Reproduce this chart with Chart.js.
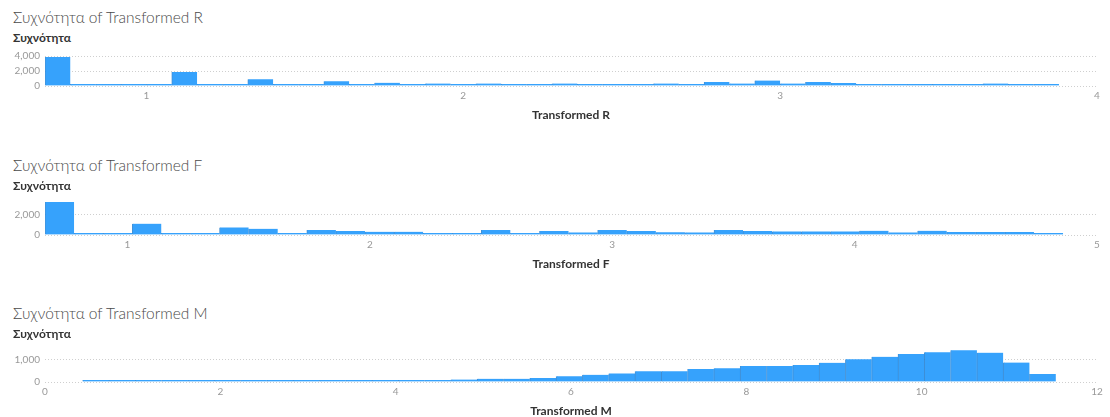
<!DOCTYPE html>
<html>
<head>
<meta charset="utf-8">
<script src="https://cdn.jsdelivr.net/npm/chart.js@4/dist/chart.umd.min.js"></script>
<style>
  html, body { margin: 0; padding: 0; background: #fff; width: 1110px; height: 417px; overflow: hidden; }
  body { position: relative; font-family: Lato, "Open Sans", sans-serif; }
  .title { position: absolute; left: 13px; font-size: 15.5px; line-height: 20px; color: #4a4a4a; font-weight: 300; white-space: nowrap; z-index: 2; }
  .ylab { position: absolute; left: 13px; font-size: 12px; line-height: 14px; font-weight: 700; color: #333; white-space: nowrap; z-index: 2; }
  canvas { position: absolute; left: 0; }
</style>
</head>
<body>
<div class="title" style="top:7px">Συχνότητα of Transformed R</div>
<div class="ylab" style="top:31px">Συχνότητα</div>
<canvas id="histR" width="1110" height="80" style="top:45px"></canvas>

<div class="title" style="top:155px">Συχνότητα of Transformed F</div>
<div class="ylab" style="top:179px">Συχνότητα</div>
<canvas id="histF" width="1110" height="86" style="top:188px"></canvas>

<div class="title" style="top:303px">Συχνότητα of Transformed M</div>
<div class="ylab" style="top:327px">Συχνότητα</div>
<canvas id="histM" width="1110" height="81" style="top:337px"></canvas>

<script>
// Transformed R: 40 bins of width 0.08 starting at 0.68
const rBinStart = 0.68;
const rBinWidth = 0.08;
const rCounts = [3880, 150, 140, 130, 140, 1860, 150, 140, 910, 150,
                 140, 630, 160, 420, 150, 320, 150, 320, 200, 150,
                 320, 200, 200, 200, 320, 280, 530, 320, 720, 320,
                 520, 400, 280, 280, 280, 280, 180, 320, 180, 180];
const rXTicks = [1, 2, 3, 4];
const rYTicks = [0, 2000, 4000];

// Transformed F: 35 bins of width 0.12 starting at 0.66
const fBinStart = 0.66;
const fBinWidth = 0.12;
const fCounts = [3200, 110, 110, 1100, 110, 110, 740, 600, 110, 480,
                 380, 320, 320, 190, 180, 480, 180, 380, 250, 480,
                 390, 260, 250, 480, 380, 350, 350, 350, 410, 250,
                 410, 290, 290, 290, 100];
const fXTicks = [1, 2, 3, 4, 5];
const fYTicks = [0, 2000];

// Transformed M: 37 bins of width 0.3 starting at 0.43
const mBinStart = 0.43;
const mBinWidth = 0.3;
const mCounts = [55, 55, 55, 55, 55, 55, 55, 55, 55, 55,
                 55, 55, 85, 80, 110, 140, 140, 180, 250, 315,
                 380, 475, 475, 575, 610, 705, 705, 750, 845, 1000,
                 1110, 1235, 1315, 1400, 1295, 860, 350];
const mXTicks = [0, 2, 4, 6, 8, 10, 12];
const mYTicks = [0, 1000];

const BAR_FILL = '#36a2fc';
const BAR_EDGE = 'rgba(34,124,206,0.85)';

function histogram(id, cfg) {
  const points = cfg.counts.map((c, i) => ({ x: cfg.start + (i + 0.5) * cfg.width, y: c }));
  return new Chart(document.getElementById(id), {
    type: 'bar',
    data: {
      datasets: [{
        data: points,
        backgroundColor: BAR_FILL,
        borderColor: BAR_EDGE,
        borderWidth: { top: 0, left: 1, right: 0, bottom: 0 },
        borderSkipped: false,
        minBarLength: 2,
        barPercentage: 1,
        categoryPercentage: 1
      }]
    },
    options: {
      responsive: false,
      animation: false,
      devicePixelRatio: 1,
      layout: { padding: { top: cfg.padTop, bottom: cfg.padBottom, left: 0, right: 13 } },
      plugins: { legend: { display: false }, tooltip: { enabled: false } },
      scales: {
        x: {
          type: 'linear',
          min: cfg.xMin,
          max: cfg.xMax,
          offset: false,
          grid: { display: false, drawTicks: false },
          border: { display: false },
          ticks: { color: '#999', font: { family: 'Lato', size: 10 }, padding: 4, maxRotation: 0, autoSkip: false },
          afterBuildTicks: s => { s.ticks = cfg.xTicks.map(v => ({ value: v })); },
          afterFit: s => { s.height = 36; },
          title: { display: true, text: cfg.xTitle, color: '#333', padding: 0,
                   font: { family: 'Lato', size: 12, weight: 'bold' } }
        },
        y: {
          min: 0,
          max: cfg.yMax,
          grid: { color: '#cfcfcf', drawTicks: false },
          border: { display: false, dash: [1, 2] },
          ticks: { color: '#999', font: { family: 'Lato', size: 10 }, padding: 5 },
          afterBuildTicks: s => { s.ticks = cfg.yTicks.map(v => ({ value: v })); },
          afterFit: s => { s.width = 45; }
        }
      }
    }
  });
}

histogram('histR', { start: rBinStart, width: rBinWidth, counts: rCounts,
  xMin: rBinStart, xMax: 4, xTicks: rXTicks, yMax: 4000, yTicks: rYTicks,
  xTitle: 'Transformed R', padTop: 8, padBottom: 3 });

histogram('histF', { start: fBinStart, width: fBinWidth, counts: fCounts,
  xMin: fBinStart, xMax: 5, xTicks: fXTicks, yMax: 3500, yTicks: fYTicks,
  xTitle: 'Transformed F', padTop: 8, padBottom: 3 });

histogram('histM', { start: mBinStart, width: mBinWidth, counts: mCounts,
  xMin: 0, xMax: 12, xTicks: mXTicks, yMax: 1500, yTicks: mYTicks,
  xTitle: 'Transformed M', padTop: 8, padBottom: 0 });
</script>
</body>
</html>
